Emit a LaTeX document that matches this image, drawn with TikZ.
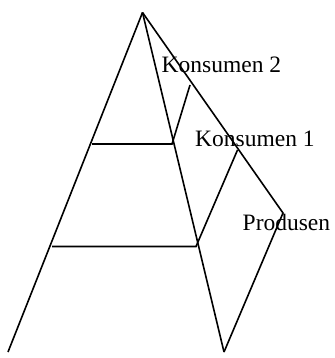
\documentclass[tikz,border=0pt]{standalone}
\usepackage{fontspec}
\setmainfont{Liberation Serif}
\begin{document}
\begin{tikzpicture}[x=1pt,y=-1pt,
  edge/.style={line width=1.6pt,line join=miter},
  lbl/.style={anchor=base west,inner sep=0pt,font=\fontsize{23.5}{26}\selectfont}]
\useasboundingbox (0,0) rectangle (334,358);
\coordinate (apex) at (142.5,12.5);
\coordinate (bl) at (8,352);
\coordinate (bm) at (224,352);
\coordinate (tr) at (283,213);
\coordinate (h1l) at (92,144);
\coordinate (h1r) at (172,144);
\coordinate (h2l) at (52,246.5);
\coordinate (h2r) at (196,246.5);
\coordinate (s1) at (190,85);
\coordinate (s2) at (237.5,150);
\draw[edge] (apex) -- (bl);
\draw[edge] (apex) -- (bm);
\draw[edge] (apex) -- (tr) -- (bm);
\draw[edge] (h1l) -- (h1r) -- (s1);
\draw[edge] (h2l) -- (h2r) -- (s2);
\node[lbl] (k2) at (161.5,72.5) {Konsumen 2};
\node[lbl] (k1) at (195,146.5) {Konsumen 1};
\node[lbl] (pr) at (242.5,230) {Produsen};
\end{tikzpicture}
\end{document}
